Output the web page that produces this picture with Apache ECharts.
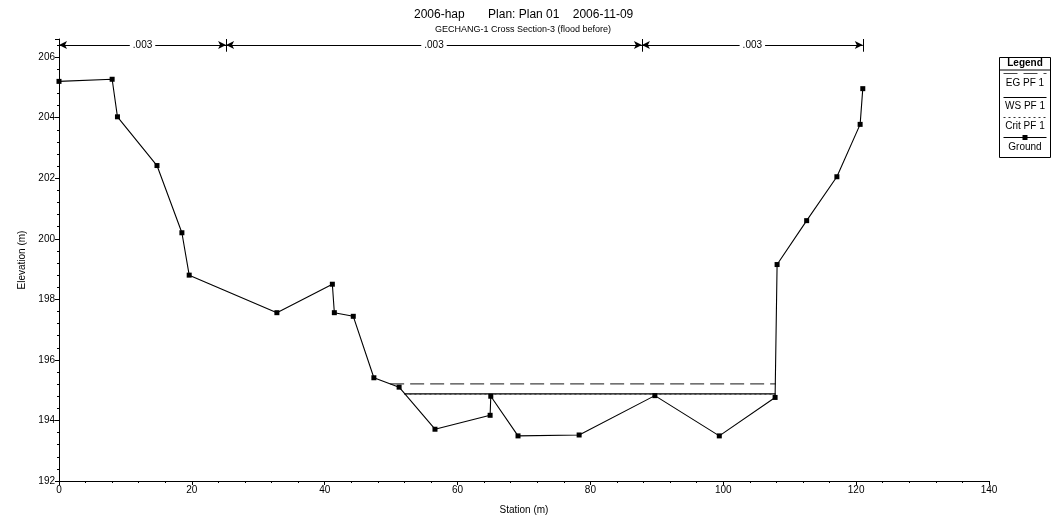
<!DOCTYPE html>
<html><head><meta charset="utf-8">
<script src="https://cdn.jsdelivr.net/npm/echarts@6/dist/echarts.min.js"></script>
<style>html,body{margin:0;padding:0;background:#fff}#c{width:1054px;height:522px}</style>
</head><body><div id="c"></div>
<script>
// ---- data ----
const groundStation = [0, 8.0, 8.8, 14.75, 18.5, 19.6, 32.8, 41.15, 41.45, 44.3, 47.4, 51.2, 56.6, 64.9, 65.0, 69.1, 78.3, 89.7, 99.4, 107.8, 108.1, 112.55, 117.1, 120.6, 121.0];
const groundElev    = [205.2, 205.27, 204.03, 202.42, 200.2, 198.8, 197.56, 198.5, 197.56, 197.44, 195.41, 195.1, 193.71, 194.17, 194.8, 193.49, 193.52, 194.82, 193.49, 194.76, 199.15, 200.6, 202.05, 203.78, 204.96];
const egStation = [49.85, 107.9];
const egElev    = [195.21, 195.21];
const wsStation = [52.0, 107.85];
const wsElev    = [194.88, 194.88];
const critStation = [52.0, 107.85];
const critElev    = [194.87, 194.87];
const bankStations = [0, 25.15, 87.75, 121.0];
const manningN = ['.003', '.003', '.003'];
const seriesNames = ['EG PF 1', 'WS PF 1', 'Crit PF 1', 'Ground'];
const titleText = '2006-hap       Plan: Plan 01    2006-11-09';
const subTitleText = 'GECHANG-1 Cross Section-3 (flood before)';
const xTicks = [0, 20, 40, 60, 80, 100, 120, 140];
const yTicks = [192, 194, 196, 198, 200, 202, 204, 206];

const zip = (a, b) => a.map((v, i) => [v, b[i]]);
const FONT = '"Liberation Sans", Arial, sans-serif';
const bankY = 206.4;

const bankMarkLines = [];
for (let i = 0; i < manningN.length; i++) {
  bankMarkLines.push([
    {coord: [bankStations[i], bankY], symbol: 'arrow', label: {show: true, formatter: manningN[i]}},
    {coord: [bankStations[i + 1], bankY], symbol: 'arrow'}
  ]);
}
bankStations.forEach(s => {
  bankMarkLines.push([
    {coord: [s, 206.6], symbol: 'none', label: {show: false}},
    {coord: [s, 206.18], symbol: 'none'}
  ]);
});

const chart = echarts.init(document.getElementById('c'), null, {renderer: 'canvas'});
chart.setOption({
  animation: false,
  backgroundColor: '#fff',
  textStyle: {fontFamily: FONT},
  title: [
    {text: titleText, left: 409, top: 4, textStyle: {fontSize: 12, fontWeight: 'normal', color: '#000', fontFamily: FONT}},
    {text: subTitleText, left: 430, top: 20, textStyle: {fontSize: 9, fontWeight: 'normal', color: '#000', fontFamily: FONT}}
  ],
  grid: {left: 59, right: 65, top: 39, bottom: 41, containLabel: false},
  xAxis: {
    type: 'value', min: xTicks[0], max: xTicks[xTicks.length - 1], interval: 20,
    name: 'Station (m)', nameLocation: 'middle', nameGap: 24,
    nameTextStyle: {fontSize: 10, color: '#000', fontFamily: FONT},
    axisLine: {show: true, onZero: false, lineStyle: {color: '#000', width: 1}},
    axisTick: {show: true, length: 4, lineStyle: {color: '#000'}},
    minorTick: {show: true, splitNumber: 5, length: 2, lineStyle: {color: '#000'}},
    axisLabel: {fontSize: 10, color: '#000', margin: 4, fontFamily: FONT},
    splitLine: {show: false}
  },
  yAxis: {
    type: 'value', min: yTicks[0], max: 206.6, interval: 2,
    name: 'Elevation (m)', nameLocation: 'middle', nameGap: 28, nameRotate: 90,
    nameTextStyle: {fontSize: 10, color: '#000', fontFamily: FONT},
    axisLine: {show: true, onZero: false, lineStyle: {color: '#000', width: 1}},
    axisTick: {show: true, length: 4, lineStyle: {color: '#000'}},
    minorTick: {show: true, splitNumber: 5, length: 2, lineStyle: {color: '#000'}},
    axisLabel: {fontSize: 10, color: '#000', margin: 4, fontFamily: FONT, showMaxLabel: false},
    splitLine: {show: false}
  },
  series: [
    {name: seriesNames[0], type: 'line', data: zip(egStation, egElev), symbol: 'none',
     lineStyle: {color: '#444', width: 1.3, type: [14, 6]}},
    {name: seriesNames[1], type: 'line', data: zip(wsStation, wsElev), symbol: 'none',
     lineStyle: {color: '#000', width: 1.2}},
    {name: seriesNames[2], type: 'line', data: zip(critStation, critElev), symbol: 'none',
     lineStyle: {color: '#333', width: 1, type: [2, 3]}},
    {name: seriesNames[3], type: 'line', data: zip(groundStation, groundElev),
     symbol: 'rect', symbolSize: 5, itemStyle: {color: '#000'},
     lineStyle: {color: '#000', width: 1.1}},
    {name: 'bank', type: 'line', data: [], symbol: 'none', clip: false,
     markLine: {
       silent: true, symbolSize: [6, 8], precision: 3,
       lineStyle: {color: '#000', width: 1, type: 'solid'},
       label: {show: true, position: 'insideMiddle', fontSize: 10, color: '#000', fontFamily: FONT,
               backgroundColor: '#fff', padding: [0, 3]},
       data: bankMarkLines
     }}
  ],
  graphic: [{
    type: 'group', left: 997, top: 57,
    children: [
      {type: 'rect', shape: {x: 0, y: 0, width: 51, height: 100}, style: {fill: '#fff', stroke: '#000', lineWidth: 1}},
      {type: 'text', x: 25.5, y: 6, style: {text: 'Legend', font: 'bold 10px ' + FONT, fill: '#000', align: 'center', verticalAlign: 'middle'}},
      {type: 'line', shape: {x1: 0, y1: 12.5, x2: 51, y2: 12.5}, style: {stroke: '#000', lineWidth: 1}},
      {type: 'line', shape: {x1: 4, y1: 16, x2: 47, y2: 16}, style: {stroke: '#444', lineWidth: 1.2, lineDash: [14, 6]}},
      {type: 'text', x: 25.5, y: 26, style: {text: seriesNames[0], font: '10px ' + FONT, fill: '#000', align: 'center', verticalAlign: 'middle'}},
      {type: 'line', shape: {x1: 4, y1: 40, x2: 47, y2: 40}, style: {stroke: '#000', lineWidth: 1.2}},
      {type: 'text', x: 25.5, y: 49, style: {text: seriesNames[1], font: '10px ' + FONT, fill: '#000', align: 'center', verticalAlign: 'middle'}},
      {type: 'line', shape: {x1: 4, y1: 60, x2: 47, y2: 60}, style: {stroke: '#333', lineWidth: 1, lineDash: [2, 3]}},
      {type: 'text', x: 25.5, y: 69, style: {text: seriesNames[2], font: '10px ' + FONT, fill: '#000', align: 'center', verticalAlign: 'middle'}},
      {type: 'line', shape: {x1: 4, y1: 80, x2: 47, y2: 80}, style: {stroke: '#000', lineWidth: 1.2}},
      {type: 'rect', shape: {x: 23, y: 77.5, width: 5, height: 5}, style: {fill: '#000'}},
      {type: 'text', x: 25.5, y: 90, style: {text: seriesNames[3], font: '10px ' + FONT, fill: '#000', align: 'center', verticalAlign: 'middle'}}
    ]
  }]
});
</script>
</body></html>
